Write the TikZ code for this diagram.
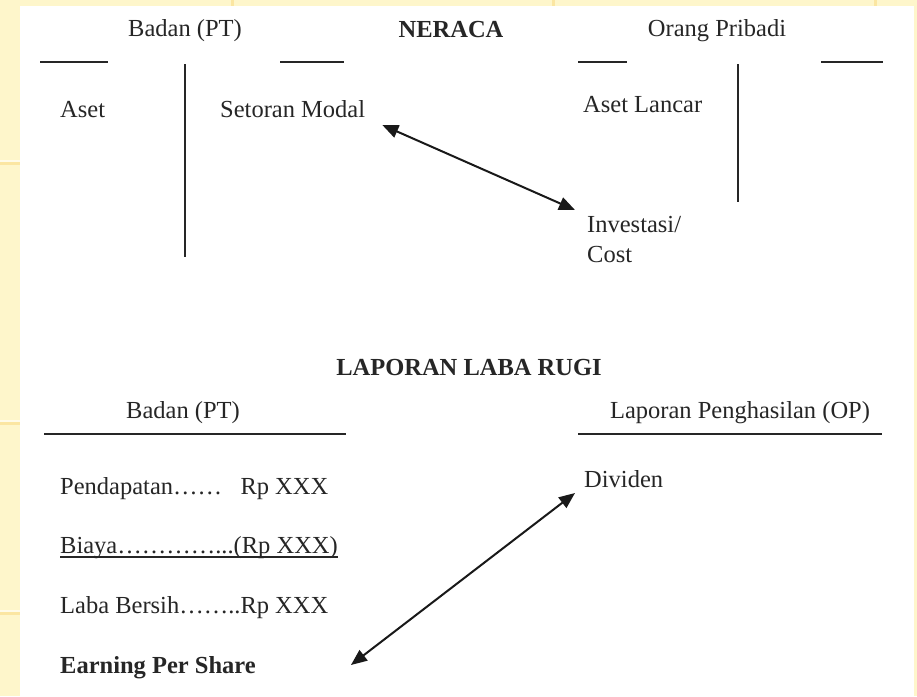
\documentclass[tikz,border=0pt]{standalone}
\usepackage{fontspec}
\setmainfont{Liberation Serif}
\usetikzlibrary{arrows.meta}
\definecolor{paper}{HTML}{FEF6CB}
\definecolor{seam}{HTML}{FBE6A2}
\definecolor{seamhi}{HTML}{FFFBE8}
\definecolor{ink}{HTML}{262626}
\begin{document}
\begin{tikzpicture}[x=1pt,y=-1pt,
  txt/.style={inner sep=0pt, text=ink, font=\fontsize{24.5}{30}\selectfont},
  lbl/.style={txt, anchor=base west},
  hdr/.style={txt, anchor=base},
  boldhdr/.style={txt, anchor=base, font=\fontsize{24.5}{30}\selectfont\bfseries},
  rule/.style={draw=ink, line width=1.8pt},
  link/.style={draw=black!90, line width=2pt,
    {Triangle[length=16pt,width=13pt]}-{Triangle[length=16pt,width=13pt]}}
]
\useasboundingbox (0,0) rectangle (917,696);
% page background and white sheet
\fill[paper] (0,0) rectangle (917,696);
\foreach \yy in {163,423,613}{
  \fill[seamhi] (0,\yy-3) rectangle (20,\yy-1);
  \fill[seam] (0,\yy-1) rectangle (20,\yy+2);
}
\foreach \xx in {232,553,875}{
  \fill[seam] (\xx-1,0) rectangle (\xx+2,6);
}
\fill[white] (20,6) rectangle (914,696);

% ---------- NERACA ----------
\node[hdr] (badanA) at (185,36) {Badan (PT)};
\node[boldhdr] (neraca) at (451,37) {NERACA};
\node[hdr] (orang) at (717,36) {Orang Pribadi};

\draw[rule] (40,62) -- (108,62);
\draw[rule] (280,62) -- (344,62);
\draw[rule] (578,62) -- (627,62);
\draw[rule] (821,62) -- (883,62);
\draw[rule] (185,64) -- (185,257);
\draw[rule] (738,64) -- (738,202);

\node[lbl] (aset) at (60,117) {Aset};
\node[lbl] (setoran) at (220,117) {Setoran Modal};
\node[lbl] (lancar) at (583,112) {Aset Lancar};
\node[txt, anchor=north west, align=left] (invest) at (587,216) {Investasi/\\Cost};

\draw[link] ([shift={(17,8)}]setoran.base east) -- ([shift={(-12,-6)}]invest.north west);

% ---------- LAPORAN LABA RUGI ----------
\node[boldhdr] (laporan) at (469,375) {LAPORAN LABA RUGI};
\node[hdr] (badanB) at (183,418) {Badan (PT)};
\node[hdr] (ophdr) at (740,418) {Laporan Penghasilan (OP)};
\draw[rule] (44,434) -- (346,434);
\draw[rule] (578,434) -- (882,434);

\node[lbl] (pendapatan) at (60,494) {Pendapatan……\hspace{0.75em}Rp XXX};
\node[lbl] (biaya) at (60,553) {Biaya…………...(Rp XXX)};
\draw[draw=ink, line width=1.3pt] ([yshift=-4pt]biaya.base west) -- ([yshift=-4pt]biaya.base east);
\node[lbl] (laba) at (60,613) {Laba Bersih……..Rp XXX};
\node[lbl, font=\fontsize{24.5}{30}\selectfont\bfseries] (eps) at (60,673) {Earning Per Share};
\node[lbl] (dividen) at (584,487) {Dividen};

\draw[link] ([shift={(-9,6)}]dividen.base west) -- ([shift={(95,-8)}]eps.base east);
\end{tikzpicture}
\end{document}
